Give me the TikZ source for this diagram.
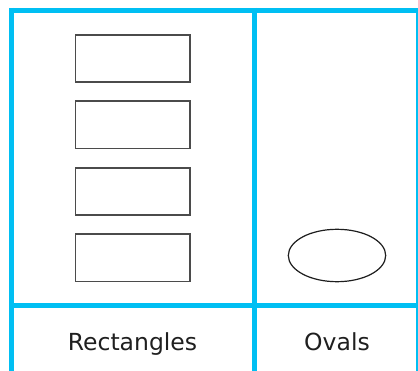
\documentclass[tikz,border=0pt]{standalone}
\usepackage{fontspec}
\setmainfont{DejaVu Sans}
\usetikzlibrary{shapes.geometric}
\definecolor{gridblue}{RGB}{0,191,243}
\definecolor{boxgray}{RGB}{75,75,75}
\definecolor{ovalgray}{RGB}{30,30,30}
\tikzset{
  gridline/.style={draw=gridblue, line width=5pt},
  shapebox/.style={draw=boxgray, line width=1.6pt, rectangle, minimum width=114.5pt, minimum height=47.3pt, inner sep=0pt},
  ovalshape/.style={draw=ovalgray, line width=1.2pt, ellipse, minimum width=97.4pt, minimum height=52.4pt, inner sep=0pt},
  caption/.style={anchor=base, inner sep=0pt, font=\fontsize{23.5pt}{28pt}\selectfont, text=black!88}
}
\begin{document}
\begin{tikzpicture}[x=1pt,y=-1pt]
\useasboundingbox (0,0) rectangle (418,371);
\clip (0,0) rectangle (418,371);
\fill[white] (0,0) rectangle (418,371);
% grid
\coordinate (tl) at (9,10.5);
\coordinate (tr) at (421,10.5);
\coordinate (ml) at (9,306);
\coordinate (mr) at (421,306);
\coordinate (lt) at (11.5,8);
\coordinate (lb) at (11.5,372);
\coordinate (ct) at (254.5,8);
\coordinate (cb) at (254.5,372);
\coordinate (rt) at (418.5,8);
\coordinate (rb) at (418.5,372);
\draw[gridline] (tl) -- (tr);
\draw[gridline] (ml) -- (mr);
\draw[gridline] (lt) -- (lb);
\draw[gridline] (ct) -- (cb);
\draw[gridline] (rt) -- (rb);
% shapes
\node[shapebox] (r1) at (132.75,58.4) {};
\node[shapebox] (r2) at (132.75,124.9) {};
\node[shapebox] (r3) at (132.75,191.4) {};
\node[shapebox] (r4) at (132.75,257.9) {};
\node[ovalshape] (o1) at (337,255.5) {};
% captions
\node[caption] (capR) at (132.5,350.8) {Rectangles};
\node[caption] (capO) at (337,350.8) {Ovals};
\end{tikzpicture}
\end{document}
